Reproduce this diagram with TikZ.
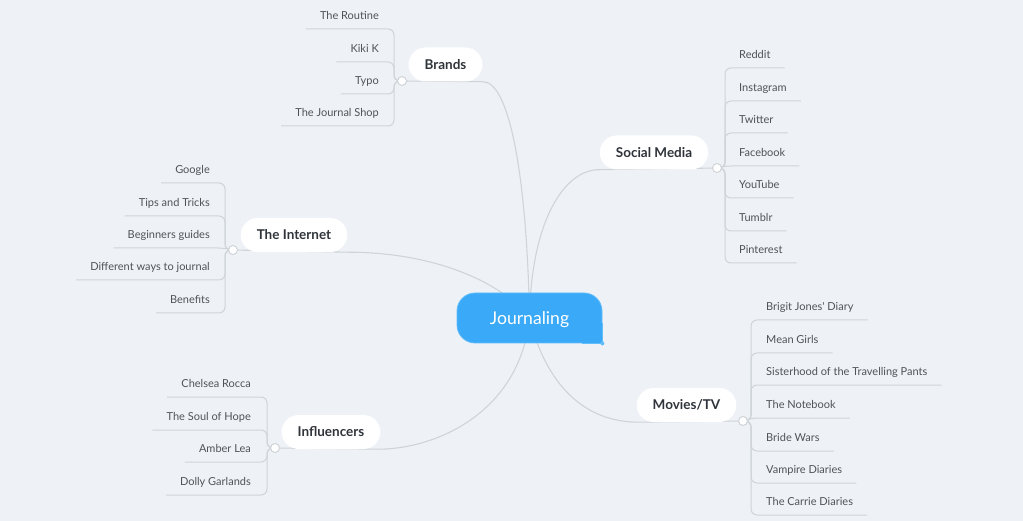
\documentclass[tikz,border=0pt]{standalone}
\usepackage{fontspec}
\setmainfont{Lato}
\usepackage{tikz}
\pgfdeclarelayer{bg}
\pgfdeclarelayer{edges}
\pgfsetlayers{bg,edges,main}
\definecolor{paper}{HTML}{EEF2F7}
\definecolor{linegray}{HTML}{CFD4D9}
\definecolor{hubblue}{HTML}{3AA9F8}
\definecolor{hubedge}{HTML}{62BCFA}
\definecolor{leafgray}{HTML}{4F5358}
\definecolor{topicgray}{HTML}{2F343A}

\begin{document}
\begin{tikzpicture}[x=1pt,y=-1pt,
  hub/.style={rounded corners=18pt,fill=hubblue,draw=hubedge,line width=0.8pt,minimum width=145pt,minimum height=50pt,text=white,text height=14pt,text depth=0pt,font=\fontsize{17.6}{20}\selectfont},
  topic/.style={rounded corners=17pt,fill=white,minimum height=34pt,inner xsep=16pt,text=topicgray,font=\bfseries\fontsize{13.5}{15}\selectfont},
  knot/.style={circle,fill=white,draw=linegray,line width=1pt,minimum size=9pt,inner sep=0pt},
  leaf/.style={text=leafgray,inner xsep=14pt,inner ysep=0pt,text height=8pt,text depth=9pt,font=\fontsize{11}{13}\selectfont},
  branch/.style={draw=linegray,line width=1.1pt},
  twig/.style={draw=linegray,line width=1pt,rounded corners=6pt}]
\useasboundingbox (0,0) rectangle (1023,521);
\begin{pgfonlayer}{bg}
\fill[paper] (0,0) rectangle (1023,521);
\end{pgfonlayer}

\node[hub] (hub) at (529.5,318) {Journaling};
\fill[hubblue] ([xshift=-20pt,yshift=20pt]hub.south east) rectangle (hub.south east);
\draw[hubedge,line width=0.8pt] ([xshift=-20pt]hub.south east) -- (hub.south east) -- ([yshift=20pt]hub.south east);
\fill[hubedge] (hub.south east) circle (2pt);

\node[topic] (brands) at (445.5,64.5) {Brands};
\node[topic] (social) at (654,152.5) {Social Media};
\node[topic] (internet) at (294,235) {The Internet};
\node[topic] (influencers) at (331,432) {Influencers};
\node[topic] (movies) at (686.5,405) {Movies/TV};

\node[knot] (brandsknot) at (402,81) {};
\node[knot] (socialknot) at (717,168) {};
\node[knot] (internetknot) at (233,250) {};
\node[knot] (influencersknot) at (275,448) {};
\node[knot] (moviesknot) at (743,421) {};

\node[leaf,anchor=south east] (brands1) at (393,29) {The Routine};
\node[leaf,anchor=south east] (brands2) at (393,62) {Kiki K};
\node[leaf,anchor=south east] (brands3) at (393,94) {Typo};
\node[leaf,anchor=south east] (brands4) at (393,126) {The Journal Shop};

\node[leaf,anchor=south west] (social1) at (725,68) {Reddit};
\node[leaf,anchor=south west] (social2) at (725,101) {Instagram};
\node[leaf,anchor=south west] (social3) at (725,133) {Twitter};
\node[leaf,anchor=south west] (social4) at (725,166) {Facebook};
\node[leaf,anchor=south west] (social5) at (725,198) {YouTube};
\node[leaf,anchor=south west] (social6) at (725,231) {Tumblr};
\node[leaf,anchor=south west] (social7) at (725,263) {Pinterest};

\node[leaf,anchor=south east] (internet1) at (224,183) {Google};
\node[leaf,anchor=south east] (internet2) at (224,216) {Tips and Tricks};
\node[leaf,anchor=south east] (internet3) at (224,248) {Beginners guides};
\node[leaf,anchor=south east] (internet4) at (224,280) {Different ways to journal};
\node[leaf,anchor=south east] (internet5) at (224,313) {Benefits};

\node[leaf,anchor=south east] (influencers1) at (265,397) {Chelsea Rocca};
\node[leaf,anchor=south east] (influencers2) at (265,430) {The Soul of Hope};
\node[leaf,anchor=south east] (influencers3) at (265,462) {Amber Lea};
\node[leaf,anchor=south east] (influencers4) at (265,495) {Dolly Garlands};

\node[leaf,anchor=south west] (movies1) at (752,320) {Brigit Jones\textquotesingle\ Diary};
\node[leaf,anchor=south west] (movies2) at (752,353) {Mean Girls};
\node[leaf,anchor=south west] (movies3) at (752,385) {Sisterhood of the Travelling Pants};
\node[leaf,anchor=south west] (movies4) at (752,418) {The Notebook};
\node[leaf,anchor=south west] (movies5) at (752,451) {Bride Wars};
\node[leaf,anchor=south west] (movies6) at (752,483) {Vampire Diaries};
\node[leaf,anchor=south west] (movies7) at (752,515) {The Carrie Diaries};

\begin{pgfonlayer}{edges}
\draw[branch] (hub.center) .. controls (527,180) and (510,81) .. (brands.south east) -- (brandsknot);
\draw[branch] (hub.center) .. controls (531,220) and (565,169) .. (social.south west) -- (socialknot);
\draw[branch] (hub.center) .. controls (500,280) and (430,252) .. (internet.south east) -- (internetknot);
\draw[branch] (hub.center) .. controls (520,410) and (440,448) .. (influencers.south east) -- (influencersknot);
\draw[branch] (hub.center) .. controls (545,380) and (580,421) .. (movies.south west) -- (moviesknot);

\draw[twig] (brandsknot.center) -- ++(-8,0) |- (brands1.south west);
\draw[twig] (brandsknot.center) -- ++(-8,0) |- (brands2.south west);
\draw[twig] (brandsknot.center) -- ++(-8,0) |- (brands3.south west);
\draw[twig] (brandsknot.center) -- ++(-8,0) |- (brands4.south west);

\draw[twig] (socialknot.center) -- ++(8,0) |- (social1.south east);
\draw[twig] (socialknot.center) -- ++(8,0) |- (social2.south east);
\draw[twig] (socialknot.center) -- ++(8,0) |- (social3.south east);
\draw[twig] (socialknot.center) -- (social4.south west) -- (social4.south east);
\draw[twig] (socialknot.center) -- ++(8,0) |- (social5.south east);
\draw[twig] (socialknot.center) -- ++(8,0) |- (social6.south east);
\draw[twig] (socialknot.center) -- ++(8,0) |- (social7.south east);

\draw[twig] (internetknot.center) -- ++(-8,0) |- (internet1.south west);
\draw[twig] (internetknot.center) -- ++(-8,0) |- (internet2.south west);
\draw[twig] (internetknot.center) -- (internet3.south east) -- (internet3.south west);
\draw[twig] (internetknot.center) -- ++(-8,0) |- (internet4.south west);
\draw[twig] (internetknot.center) -- ++(-8,0) |- (internet5.south west);

\draw[twig] (influencersknot.center) -- ++(-8,0) |- (influencers1.south west);
\draw[twig] (influencersknot.center) -- ++(-8,0) |- (influencers2.south west);
\draw[twig] (influencersknot.center) -- ++(-8,0) |- (influencers3.south west);
\draw[twig] (influencersknot.center) -- ++(-8,0) |- (influencers4.south west);

\draw[twig] (moviesknot.center) -- ++(8,0) |- (movies1.south east);
\draw[twig] (moviesknot.center) -- ++(8,0) |- (movies2.south east);
\draw[twig] (moviesknot.center) -- ++(8,0) |- (movies3.south east);
\draw[twig] (moviesknot.center) -- (movies4.south west) -- (movies4.south east);
\draw[twig] (moviesknot.center) -- ++(8,0) |- (movies5.south east);
\draw[twig] (moviesknot.center) -- ++(8,0) |- (movies6.south east);
\draw[twig] (moviesknot.center) -- ++(8,0) |- (movies7.south east);
\end{pgfonlayer}
\end{tikzpicture}
\end{document}
